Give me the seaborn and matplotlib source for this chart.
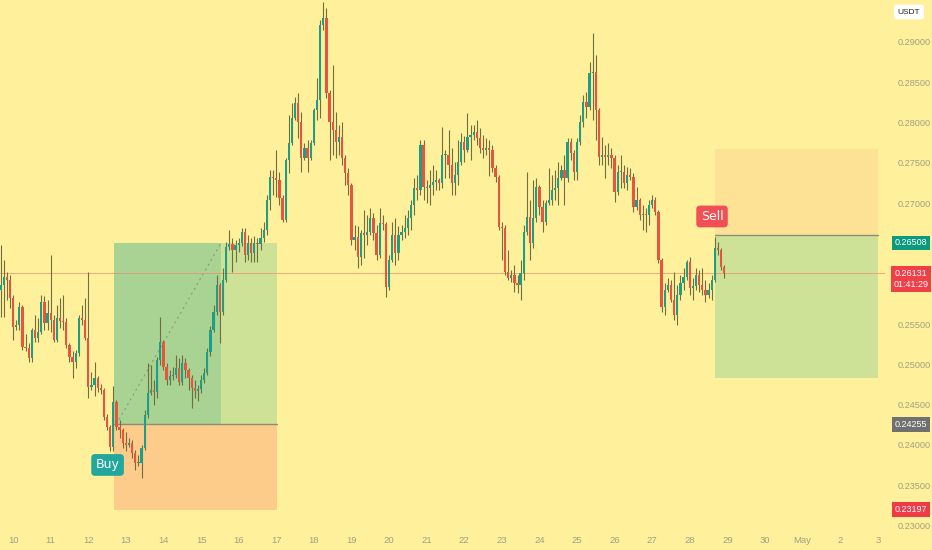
import pandas as pd
import numpy as np
import matplotlib
matplotlib.use("Agg")
import matplotlib.pyplot as plt
import matplotlib.dates as mdates
from matplotlib.patches import Rectangle
from matplotlib.transforms import blended_transform_factory
import seaborn as sns

# --- datos: velas de 2 horas, precio en USDT ---
first_open = 0.2592
closes = [
    0.2599, 0.2608, 0.2605, 0.2582, 0.2546, 0.2549, 0.2571, 0.2522, 0.2520, 0.2508,
    0.2543, 0.2533, 0.2540, 0.2577, 0.2551, 0.2564, 0.2555, 0.2530, 0.2558, 0.2554,
    0.2553, 0.2524, 0.2509, 0.2503, 0.2514, 0.2558, 0.2555, 0.2533, 0.2472, 0.2474,
    0.2483, 0.2471,
    0.2468, 0.2435, 0.2422, 0.2398, 0.2453, 0.2422, 0.2419, 0.2402, 0.2400, 0.2402,
    0.2390, 0.2378, 0.2378, 0.2396, 0.2437, 0.2464, 0.2468, 0.2466, 0.2505, 0.2528,
    0.2497, 0.2481, 0.2486, 0.2487, 0.2496, 0.2478, 0.2502, 0.2493, 0.2483, 0.2471,
    0.2467, 0.2469, 0.2481, 0.2489, 0.2515, 0.2543, 0.2565, 0.2599, 0.2565, 0.2605,
    0.2646, 0.2649, 0.2642, 0.2648, 0.2651, 0.2664, 0.2636, 0.2651, 0.2638, 0.2651,
    0.2649, 0.2657, 0.2667,
    0.2704,
    0.2733, 0.2731, 0.2729, 0.2706, 0.2679, 0.2754, 0.2775, 0.2806, 0.2824, 0.2801,
    0.2756, 0.2769, 0.2756, 0.2775, 0.2816, 0.2828, 0.2921, 0.2930, 0.2837, 0.2801,
    0.2791, 0.2776, 0.2782, 0.2756, 0.2738, 0.2723, 0.2654, 0.2658, 0.2633, 0.2663,
    0.2661, 0.2664, 0.2682, 0.2663, 0.2636, 0.2675, 0.2674, 0.2596, 0.2630, 0.2661,
    0.2638, 0.2661, 0.2664, 0.2669, 0.2682, 0.2698, 0.2719, 0.2716,
    0.2772, 0.2720, 0.2719, 0.2723, 0.2726, 0.2729, 0.2725, 0.2760, 0.2760, 0.2747,
    0.2725, 0.2735, 0.2751, 0.2776, 0.2766, 0.2782, 0.2785, 0.2788, 0.2781, 0.2769,
    0.2766, 0.2769, 0.2766, 0.2744, 0.2733, 0.2670, 0.2669, 0.2615, 0.2607, 0.2611,
    0.2601, 0.2599, 0.2613, 0.2664, 0.2683, 0.2651, 0.2682, 0.2720, 0.2695, 0.2677,
    0.2700, 0.2704, 0.2716, 0.2719, 0.2731, 0.2741, 0.2731, 0.2776,
    0.2762, 0.2739, 0.2776, 0.2801, 0.2826, 0.2819, 0.2862, 0.2863, 0.2816, 0.2757,
    0.2760, 0.2757, 0.2760, 0.2756, 0.2714, 0.2739, 0.2739, 0.2725, 0.2735, 0.2733,
    0.2695, 0.2704, 0.2685, 0.2687, 0.2685, 0.2698, 0.2704, 0.2689, 0.2630, 0.2571,
    0.2592, 0.2599, 0.2580, 0.2561, 0.2586, 0.2601, 0.2608, 0.2627, 0.2595, 0.2597,
    0.2611, 0.2599, 0.2592, 0.2586, 0.2592, 0.2605, 0.2644, 0.2642, 0.2621, 0.26131,
]
highs = [
    0.2648, 0.2630, 0.2615, 0.2611, 0.2586, 0.2555, 0.2577, 0.2574, 0.2538, 0.2527,
    0.2545, 0.2561, 0.2557, 0.2586, 0.2585, 0.2580, 0.2636, 0.2561, 0.2574, 0.2582,
    0.2586, 0.2557, 0.2527, 0.2516, 0.2518, 0.2561, 0.2574, 0.2582, 0.2614, 0.2491,
    0.2503, 0.2486,
    0.2476, 0.2471, 0.2439, 0.2425, 0.2473, 0.2456, 0.2431, 0.2421, 0.2416, 0.2409,
    0.2406, 0.2394, 0.2388, 0.2400, 0.2444, 0.2502, 0.2499, 0.2481, 0.2509, 0.2559,
    0.2530, 0.2502, 0.2493, 0.2497, 0.2512, 0.2508, 0.2512, 0.2508, 0.2496, 0.2487,
    0.2481, 0.2475, 0.2487, 0.2496, 0.2520, 0.2547, 0.2574, 0.2611, 0.2601, 0.2620,
    0.2652, 0.2667, 0.2657, 0.2654, 0.2657, 0.2669, 0.2669, 0.2661, 0.2657, 0.2659,
    0.2657, 0.2669, 0.2677,
    0.2710,
    0.2741, 0.2741, 0.2766, 0.2739, 0.2710, 0.2756, 0.2809, 0.2824, 0.2832, 0.2837,
    0.2813, 0.2775, 0.2778, 0.2778, 0.2818, 0.2855, 0.2927, 0.2950, 0.2942, 0.2840,
    0.2871, 0.2813, 0.2797, 0.2801, 0.2760, 0.2744, 0.2725, 0.2673, 0.2672, 0.2667,
    0.2692, 0.2685, 0.2694, 0.2688, 0.2673, 0.2694, 0.2685, 0.2677, 0.2636, 0.2677,
    0.2682, 0.2672, 0.2673, 0.2685, 0.2692, 0.2704, 0.2731, 0.2735,
    0.2778, 0.2778, 0.2729, 0.2741, 0.2747, 0.2741, 0.2731, 0.2795, 0.2766, 0.2791,
    0.2768, 0.2751, 0.2778, 0.2787, 0.2783, 0.2812, 0.2797, 0.2797, 0.2803, 0.2793,
    0.2785, 0.2781, 0.2778, 0.2772, 0.2747, 0.2735, 0.2677, 0.2673, 0.2642, 0.2617,
    0.2623, 0.2611, 0.2630, 0.2673, 0.2739, 0.2704, 0.2729, 0.2731, 0.2723, 0.2704,
    0.2704, 0.2744, 0.2735, 0.2741, 0.2751, 0.2747, 0.2760, 0.2781,
    0.2781, 0.2766, 0.2781, 0.2809, 0.2834, 0.2838, 0.2875, 0.2911, 0.2884, 0.2818,
    0.2782, 0.2772, 0.2775, 0.2768, 0.2760, 0.2747, 0.2760, 0.2747, 0.2745, 0.2744,
    0.2737, 0.2720, 0.2706, 0.2698, 0.2694, 0.2704, 0.2710, 0.2708, 0.2692, 0.2632,
    0.2601, 0.2607, 0.2605, 0.2615, 0.2599, 0.2611, 0.2620, 0.2630, 0.2633, 0.2607,
    0.2620, 0.2617, 0.2620, 0.2605, 0.2601, 0.2611, 0.2658, 0.2652, 0.2644, 0.2623,
]
lows = [
    0.2559, 0.2559, 0.2580, 0.2570, 0.2530, 0.2543, 0.2543, 0.2518, 0.2516, 0.2503,
    0.2503, 0.2528, 0.2528, 0.2538, 0.2543, 0.2543, 0.2540, 0.2528, 0.2528, 0.2545,
    0.2543, 0.2520, 0.2503, 0.2483, 0.2496, 0.2511, 0.2549, 0.2530, 0.2458, 0.2468,
    0.2461, 0.2466,
    0.2463, 0.2431, 0.2418, 0.2392, 0.2392, 0.2419, 0.2409, 0.2396, 0.2392, 0.2398,
    0.2384, 0.2369, 0.2374, 0.2359, 0.2394, 0.2434, 0.2462, 0.2450, 0.2458, 0.2499,
    0.2493, 0.2475, 0.2475, 0.2481, 0.2483, 0.2475, 0.2475, 0.2483, 0.2468, 0.2446,
    0.2458, 0.2454, 0.2465, 0.2477, 0.2487, 0.2511, 0.2540, 0.2561, 0.2527, 0.2561,
    0.2602, 0.2642, 0.2615, 0.2627, 0.2640, 0.2647, 0.2627, 0.2630, 0.2627, 0.2627,
    0.2627, 0.2642, 0.2652,
    0.2661,
    0.2692, 0.2710, 0.2708, 0.2698, 0.2677, 0.2677, 0.2737, 0.2772, 0.2803, 0.2781,
    0.2739, 0.2754, 0.2739, 0.2754, 0.2772, 0.2803, 0.2806, 0.2915, 0.2830, 0.2754,
    0.2760, 0.2756, 0.2760, 0.2747, 0.2723, 0.2710, 0.2648, 0.2642, 0.2620, 0.2623,
    0.2632, 0.2648, 0.2661, 0.2654, 0.2630, 0.2632, 0.2667, 0.2584, 0.2592, 0.2627,
    0.2623, 0.2630, 0.2654, 0.2657, 0.2661, 0.2667, 0.2685, 0.2704,
    0.2710, 0.2704, 0.2700, 0.2698, 0.2710, 0.2716, 0.2716, 0.2719, 0.2731, 0.2731,
    0.2710, 0.2710, 0.2723, 0.2747, 0.2751, 0.2764, 0.2754, 0.2778, 0.2772, 0.2762,
    0.2756, 0.2760, 0.2734, 0.2739, 0.2726, 0.2667, 0.2630, 0.2611, 0.2605, 0.2602,
    0.2590, 0.2589, 0.2580, 0.2605, 0.2661, 0.2630, 0.2644, 0.2677, 0.2685, 0.2664,
    0.2673, 0.2698, 0.2698, 0.2704, 0.2698, 0.2729, 0.2698, 0.2726,
    0.2754, 0.2729, 0.2729, 0.2772, 0.2795, 0.2806, 0.2816, 0.2803, 0.2778, 0.2747,
    0.2747, 0.2731, 0.2747, 0.2744, 0.2702, 0.2710, 0.2719, 0.2719, 0.2716, 0.2729,
    0.2689, 0.2692, 0.2679, 0.2667, 0.2664, 0.2673, 0.2694, 0.2685, 0.2626, 0.2565,
    0.2561, 0.2590, 0.2577, 0.2555, 0.2549, 0.2580, 0.2592, 0.2605, 0.2586, 0.2580,
    0.2592, 0.2590, 0.2586, 0.2577, 0.2582, 0.2580, 0.2602, 0.2636, 0.2617, 0.2607,
]
assert len(closes) == len(highs) == len(lows)

# posiciones (long y short)
buy_entry, buy_target, buy_stop = 0.24255, 0.26508, 0.23197
sell_entry, sell_target, sell_stop = 0.2661, 0.2483, 0.2767
last_price = 0.26131
countdown = "01:41:29"

price_ticks = [0.230, 0.235, 0.240, 0.245, 0.250, 0.255, 0.270, 0.275, 0.280, 0.285, 0.290]
day_ticks = pd.date_range("2023-04-10", "2023-05-03", freq="D")
day_labels = [("May" if d.day == 1 else str(d.day)) for d in day_ticks]

# --- estilo ---
bg = "#fff19b"
up_col, down_col, wick_col = "#1f9e86", "#e8553e", "#6f6e3e"
sns.set_style("white")
plt.rcParams["font.family"] = ["Liberation Sans", "DejaVu Sans"]

times = pd.date_range("2023-04-09 16:00", periods=len(closes), freq="2h")
x = mdates.date2num(times)
opens = np.array([first_open] + closes[:-1])
c = np.array(closes)
hi = np.maximum(np.array(highs), np.maximum(opens, c))
lo = np.minimum(np.array(lows), np.minimum(opens, c))
colors = np.where(c >= opens, up_col, down_col)

fig = plt.figure(figsize=(9.32, 5.5), dpi=100)
fig.patch.set_facecolor(bg)
ax = fig.add_axes([0, 20 / 550, 885 / 932, 530 / 550])
ax.set_facecolor(bg)

def t(s):
    return mdates.date2num(pd.Timestamp(s))

# cajas de la posicion larga
bl, bh, br = t("2023-04-12 16:20"), t("2023-04-15 12:50"), t("2023-04-17 00:40")
ax.add_patch(Rectangle((bl, buy_stop), br - bl, buy_entry - buy_stop, fc="#fdcc8a", ec="none", zorder=1))
ax.add_patch(Rectangle((bl, buy_entry), bh - bl, buy_target - buy_entry, fc="#a8d392", ec="none", zorder=1))
ax.add_patch(Rectangle((bh, buy_entry), br - bh, buy_target - buy_entry, fc="#cde296", ec="none", zorder=1))
ax.plot([bl, br], [buy_entry, buy_entry], color="#8f8d78", lw=1, zorder=2)
diag = pd.DataFrame({"t": [t("2023-04-12 17:50"), bh], "p": [buy_entry, buy_target]})
sns.lineplot(data=diag, x="t", y="p", ax=ax, color="#8f9a80", lw=0.8, linestyle=(0, (2, 3)), zorder=2)

# cajas de la posicion corta
sl, sr = t("2023-04-28 16:10"), t("2023-05-03 00:00")
ax.add_patch(Rectangle((sl, sell_entry), sr - sl, sell_stop - sell_entry, fc="#fde195", ec="none", zorder=1))
ax.add_patch(Rectangle((sl, sell_target), sr - sl, sell_entry - sell_target, fc="#cde296", ec="none", zorder=1))
ax.plot([sl, sr], [sell_entry, sell_entry], color="#8f8d78", lw=1, zorder=2)

# precio actual
ax.axhline(last_price, color="#f0876a", lw=0.6, alpha=0.8, zorder=2)

# velas
ax.vlines(x, lo, hi, color=wick_col, lw=0.8, zorder=3)
body_h = np.maximum(np.abs(c - opens), 0.00006)
ax.bar(x, body_h, bottom=np.minimum(opens, c), width=1.45 / 24, color=colors, lw=0, zorder=4)

# etiquetas Buy / Sell
ax.text(t("2023-04-12 12:20"), 0.23752, "Buy", color="white", fontsize=9, family="DejaVu Sans",
        ha="center", va="center", zorder=6,
        bbox=dict(boxstyle="round,pad=0.35,rounding_size=0.3", fc="#22a79c", ec="none"))
ax.text(t("2023-04-28 14:10"), 0.26835, "Sell", color="white", fontsize=9, family="DejaVu Sans",
        ha="center", va="center", zorder=6,
        bbox=dict(boxstyle="round,pad=0.35,rounding_size=0.3", fc="#ef4f55", ec="none"))

# ejes
ax.set_xlim(t("2023-04-09 15:40"), t("2023-05-03 04:35"))
ax.set_ylim(0.22945, 0.29521)
for s in ax.spines.values():
    s.set_visible(False)
ax.set_xticks(mdates.date2num(day_ticks))
ax.set_xticklabels(day_labels)
ax.yaxis.tick_right()
ax.set_yticks(price_ticks)
ax.set_yticklabels([f"{v:.5f}" for v in price_ticks])
ax.tick_params(axis="x", length=0, pad=4, labelsize=6.8, labelcolor="#a29e84")
ax.tick_params(axis="y", length=0, pad=9, labelsize=6.6, labelcolor="#a29e84")
ax.grid(False)
ax.set_xlabel("")
ax.set_ylabel("")

# etiquetas de precio en el eje derecho
tr = blended_transform_factory(ax.transAxes, ax.transData)
xc = 911 / 885
def badge(price, text, fc):
    ax.text(xc, price, text, transform=tr, ha="center", va="center", color="white",
            fontsize=6.5, clip_on=False, zorder=7, linespacing=1.35,
            bbox=dict(boxstyle="square,pad=0.3", fc=fc, ec="none"))

badge(buy_target, "0.26508", "#0b9a7d")
badge(last_price - 0.0007, "0.26131\n" + countdown, "#ef4048")
badge(buy_entry, "0.24255", "#707070")
badge(buy_stop, "0.23197", "#ef3a48")

ax.text(909 / 885, 1 - 12 / 530, "USDT", transform=ax.transAxes, ha="center", va="center",
        fontsize=6, color="#222222", clip_on=False, zorder=7,
        bbox=dict(boxstyle="round,pad=0.45,rounding_size=0.3", fc="white", ec="none"))

fig.savefig("out.png", dpi=100, facecolor=bg)
